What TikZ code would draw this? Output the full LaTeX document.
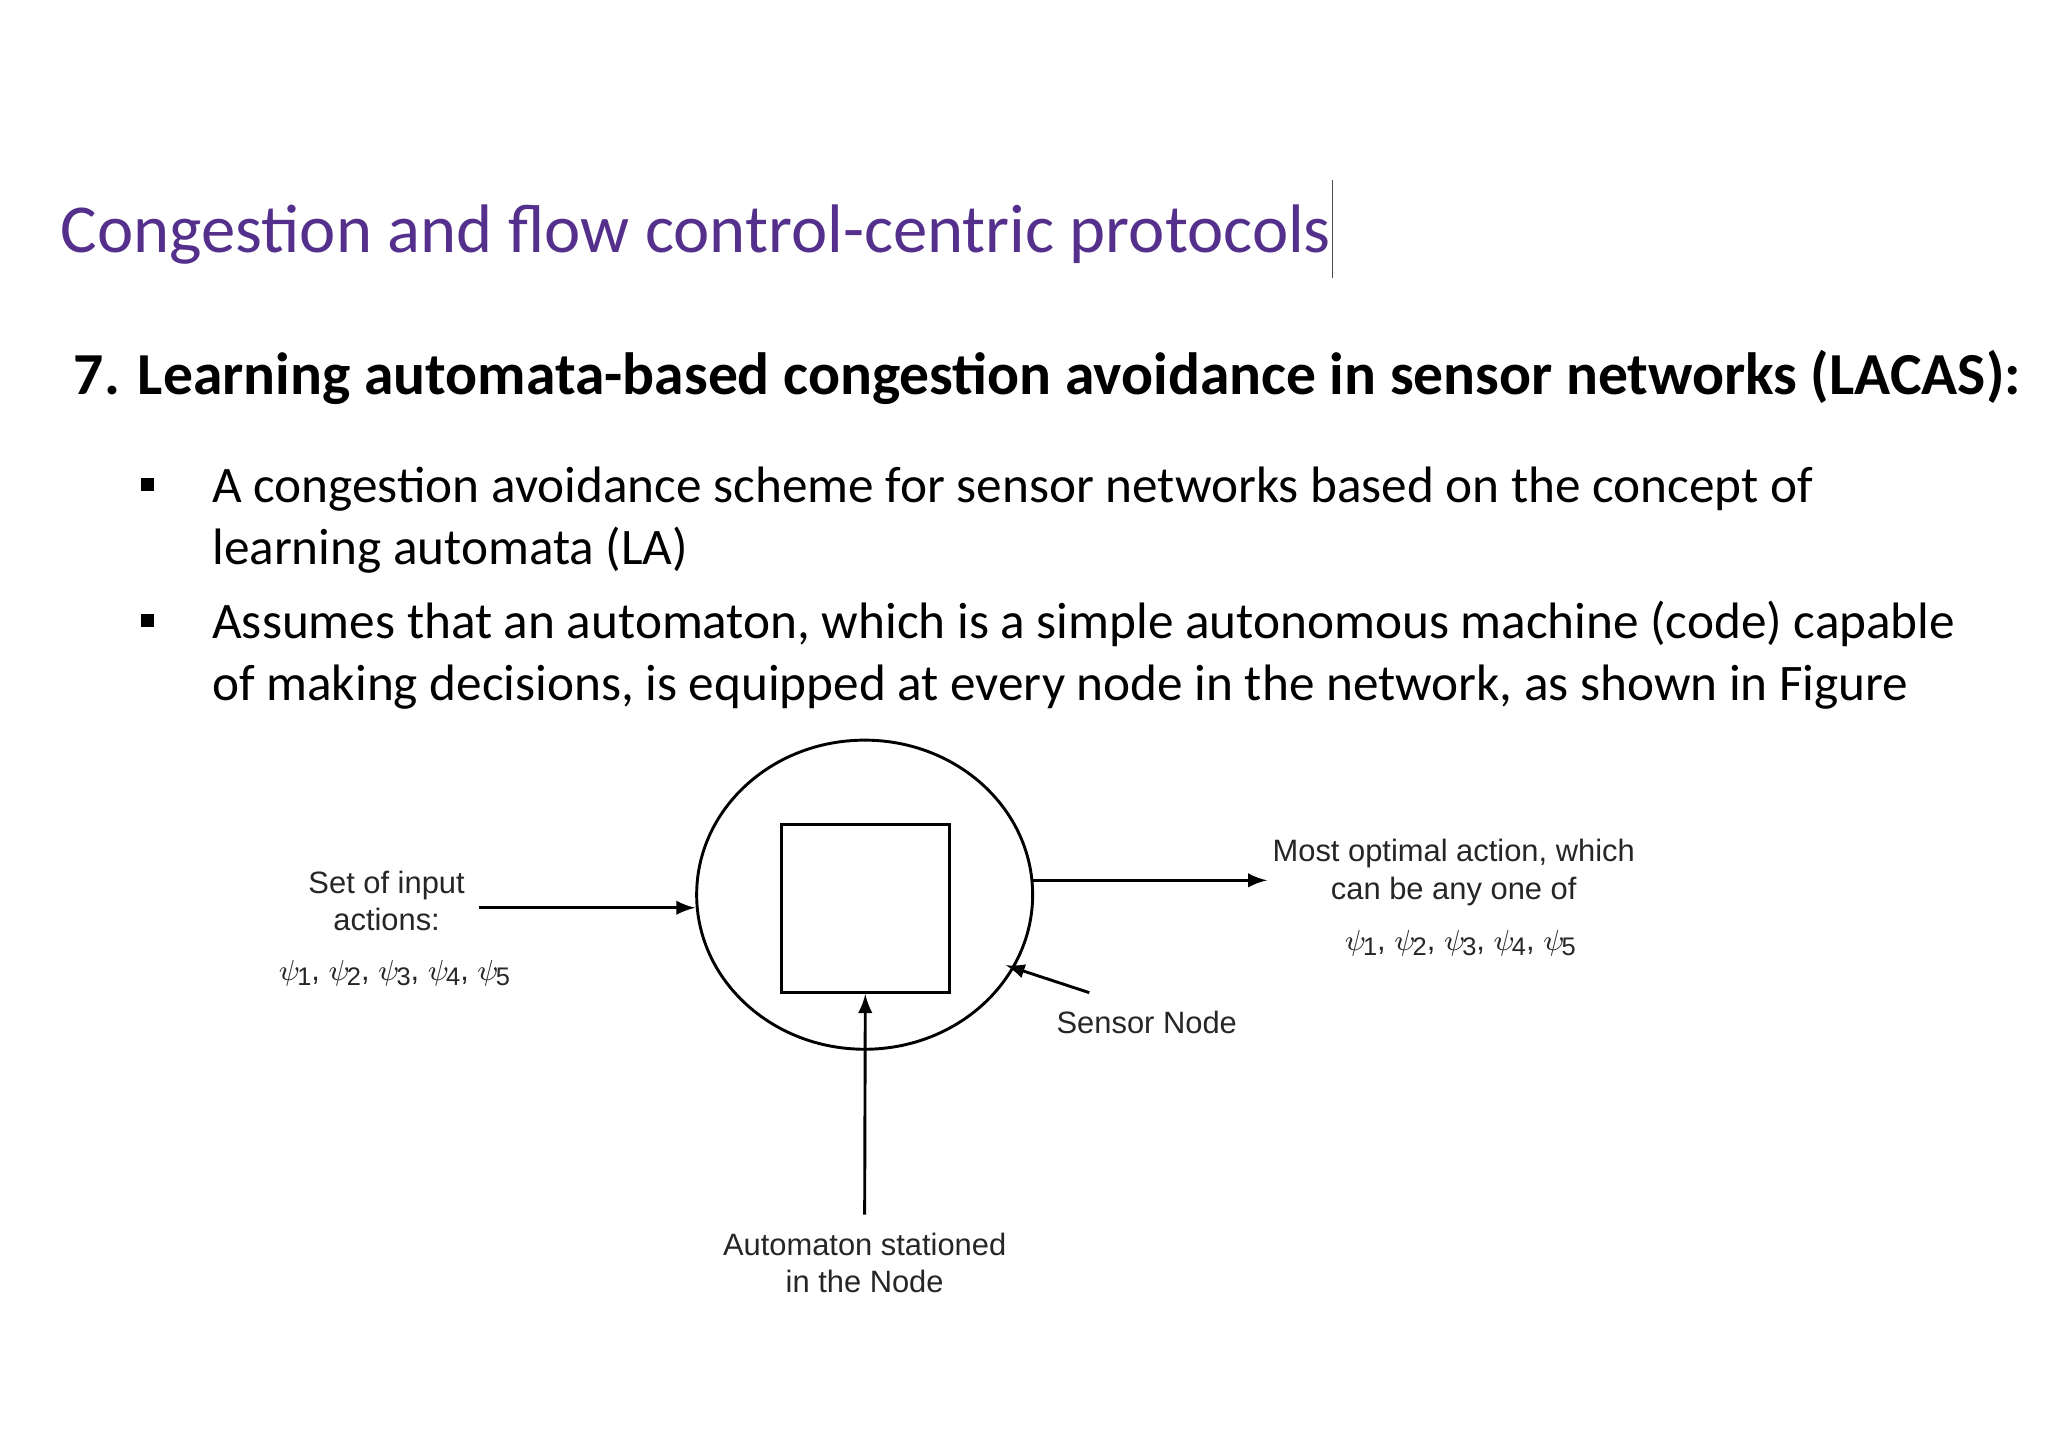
\documentclass[tikz,border=0pt]{standalone}
\usepackage{fontspec}
\usetikzlibrary{shapes.geometric}
\setmainfont{Carlito}
\newfontfamily\arialf{Liberation Sans}
\newcommand{\ps}[1]{$\psi$\kern-0.8pt\raisebox{-0.35ex}{\fontsize{7}{8}\selectfont#1}}
\begin{document}
\begin{tikzpicture}[x=0.01263cm,y=-0.01263cm,
  lbl/.style={font=\arialf\fontsize{8.5}{10.3}\selectfont, text=black!85, align=center, inner sep=0},
  bul/.style={anchor=base west, font=\fontsize{14.1}{16}\selectfont, inner sep=0},
  arr/.style={-latex, thick}]
\useasboundingbox[fill=white] (0,0) rectangle (1568,1108);
\node[anchor=base west, inner sep=0, text={rgb,255:red,84;green,48;blue,140}, font=\fontsize{18.9}{22}\selectfont] (title) at (46,193) {Congestion and flow control-centric protocols};
\draw[black!70] (1020,138) -- (1020,213);
\node[anchor=base west, inner sep=0, font=\bfseries\fontsize{16.4}{19}\selectfont] (head) at (56,302) {7. Learning automata-based congestion avoidance in sensor networks (LACAS):};
\fill (108,366) rectangle (118,376);
\fill (108,470) rectangle (118,480);
\node[bul] (b1) at (162,385) {A congestion avoidance scheme for sensor networks based on the concept of};
\node[bul] (b1b) at (162,432) {learning automata (LA)};
\node[bul] (b2) at (162,489) {Assumes that an automaton, which is a simple autonomous machine (code) capable};
\node[bul] (b2b) at (162,536) {of making decisions, is equipped at every node in the network, as shown in Figure};
\node[draw, ellipse, thick, minimum width=3.25cm, minimum height=2.99cm, inner sep=0] (circ) at (662,685) {};
\node[draw, thick, minimum width=1.63cm, minimum height=1.63cm, inner sep=0] (sq) at (662.5,695.5) {};
\node[lbl] (in) at (296,690) {Set of input\\actions:};
\node[lbl] (inp) at (302,745) {\ps1, \ps2, \ps3, \ps4, \ps5};
\coordinate (inS) at (367,695);
\draw[arr] (inS) -- (circ.west |- inS);
\coordinate (outS) at (791,674);
\coordinate (outE) at (970,674);
\draw[arr] (outS) -- (outE);
\node[lbl] (out) at (1113,668) {Most optimal action, which\\can be any one of};
\node[lbl] (outp) at (1118,722) {\ps1, \ps2, \ps3, \ps4, \ps5};
\node[lbl] (sn) at (878,783) {Sensor Node};
\coordinate (snS) at (834,760);
\coordinate (snE) at (770,739);
\draw[arr] (snS) -- (snE);
\node[lbl] (auto) at (662,967) {Automaton stationed\\in the Node};
\coordinate (auS) at (662,930);
\draw[arr] (auS) -- (sq.south);
\end{tikzpicture}
\end{document}
